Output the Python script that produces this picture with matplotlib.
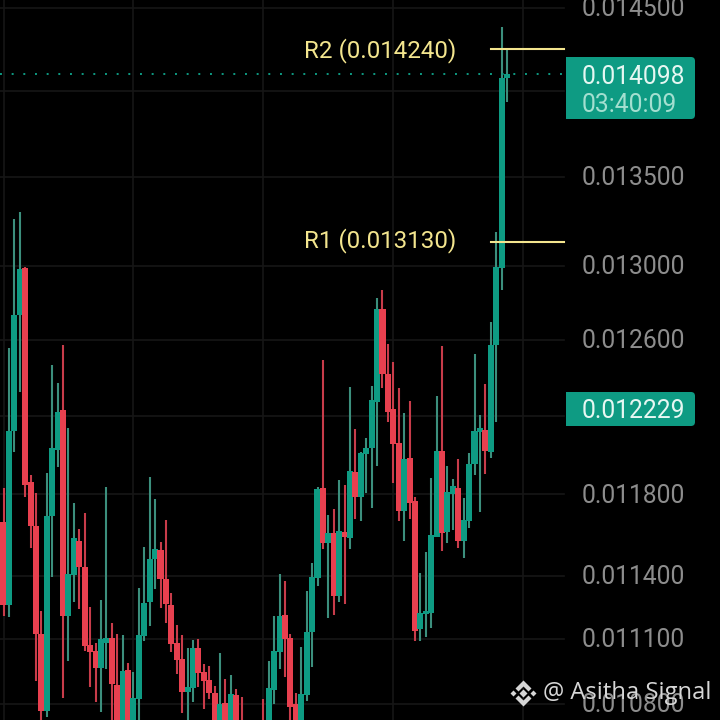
import numpy as np
import matplotlib
matplotlib.use('Agg')
import matplotlib.pyplot as plt
from matplotlib.patches import FancyBboxPatch, Rectangle, Polygon

# prices in millionths
highs = [11830, 12553, 13259, 13299, 12992, 11900, 11805, 11234, 11910, 12463,
         12373, 12569, 12139, 11755, 11631, 11710, 11253, 11082, 11282, 11835,
         11176, 11124, 11119, 10988, 10946, 11344, 11542, 11890, 11775, 11567,
         11675, 11320, 11167, 11119, 11059, 11096, 11101, 10983, 10974, 10882,
         11035, 10914, 10932, 10868, 10831, 10699, 10685, 10704, 10822, 10998,
         11210, 11411, 11373, 11124, 10849, 11063, 11329, 11460, 11835, 12489,
         11700, 11730, 11870, 11845, 12347, 12134, 12012, 12088, 12357, 12822,
         12866, 12574, 12479, 12342, 12212, 12274, 11785, 11416, 11517, 11885,
         12300, 12564, 11945, 11880, 11980, 11780, 12007, 12521, 12202, 12363,
         12692, 13187, 14384, 14250]
lows = [11210, 11205, 12012, 12321, 11785, 11537, 10905, 10699, 10740, 11397,
        11940, 10827, 10998, 11277, 11243, 11045, 10877, 10808, 10762, 10960,
        10699, 10646, 10631, 10608, 10608, 10699, 11091, 11162, 11339, 11248,
        11176, 11040, 10937, 10758, 10699, 10808, 10877, 10776, 10822, 10608,
        10608, 10608, 10608, 10608, 10586, 10541, 10532, 10550, 10550, 10608,
        10799, 10960, 10923, 10666, 10608, 10608, 10813, 10970, 11349, 11532,
        11200, 11215, 11277, 11267, 11532, 11680, 11670, 11805, 11735, 11945,
        12342, 12170, 11855, 11670, 11572, 11680, 11091, 11091, 11110, 11153,
        11587, 11522, 11562, 11626, 11537, 11489, 11636, 11900, 11715, 11905,
        11985, 12166, 12866, 13933]
opens = [11661, 11262, 12124, 12730, 12987, 11860, 11641, 11124, 10767, 11695,
         12022, 12228, 11210, 11406, 11572, 11445, 11073, 11045, 10965, 11082,
         11105, 10886, 10685, 10956, 10646, 10822, 11115, 11277, 11484, 11527,
         11387, 11262, 11082, 11007, 10854, 10872, 11059, 10946, 10909, 10849,
         10646, 10804, 10646, 10840, 10666, 10646, 10577, 10595, 10646, 10646,
         10863, 11040, 11215, 11105, 10799, 10646, 10840, 11134, 11392, 11830,
         11562, 11611, 11301, 11616, 11582, 11915, 11785, 12002, 12032, 12269,
         12763, 12420, 12233, 12062, 11720, 11985, 11765, 11148, 11219, 11224,
         11591, 12017, 11616, 11800, 11830, 11572, 11670, 11955, 12114, 12129,
         12012, 12569, 12987, 14075]
closes = [11262, 12124, 12730, 12981, 11845, 11641, 11124, 10767, 11695, 12032,
          12222, 11210, 11411, 11582, 11445, 11068, 11040, 10965, 11101, 11105,
          10891, 10666, 10951, 10646, 10827, 11119, 11272, 11484, 11532, 11387,
          11267, 11077, 11002, 10854, 10877, 11059, 10941, 10905, 10849, 10646,
          10799, 10646, 10845, 10646, 10608, 10586, 10631, 10640, 10608, 10872,
          11045, 11210, 11101, 10785, 10646, 10845, 11134, 11397, 11825, 11562,
          11611, 11301, 11621, 11587, 11920, 11785, 12007, 12032, 12280, 12763,
          12420, 12217, 12057, 11720, 11980, 11755, 11139, 11224, 11234, 11601,
          12017, 11611, 11810, 11840, 11572, 11675, 11955, 12119, 12139, 12017,
          12569, 12992, 14075, 14098]

tick_values = [14500, 13500, 13000, 12600, 11800, 11400, 11100, 10800]
tick_labels = ['0.014500', '0.013500', '0.013000', '0.012600',
               '0.011800', '0.011400', '0.011100', '0.010800']
grid_values = tick_values + [14000, 12200]
resist_values = [13130, 14250]
resist_labels = ['R1 (0.013130)', 'R2 (0.014240)']
last_price = 14098

GREEN, RED = '#0e9b83', '#e8404f'
WICK_GREEN, WICK_RED = '#3c8f7d', '#c83c4a'
YELLOW = '#f3e58e'
GRID = '#161616'
px = 1 / 5.414  # candles per pixel
x_of = lambda p: (p - 3.5) * px

plt.rcParams['font.family'] = ['Roboto', 'DejaVu Sans']
fig = plt.figure(figsize=(7.2, 7.2), dpi=100, facecolor='black')
ax = fig.add_axes([0, 0, 1, 1], facecolor='black')
ax.set_yscale('log')
ax.set_xlim(x_of(0), x_of(720))
ax.set_ylim(10725e-6, 14549e-6)
ax.axis('off')

# grid stops where the price scale starts
for g in grid_values:
    ax.plot([x_of(0), x_of(564)], [g * 1e-6, g * 1e-6], color=GRID, lw=1.2, zorder=1)
for i in range(0, 120, 24):
    ax.axvline(i, color=GRID, lw=1.2, zorder=1)

for i in range(len(opens)):
    up = closes[i] >= opens[i]
    ax.vlines(i, lows[i] * 1e-6, highs[i] * 1e-6, color=WICK_GREEN if up else WICK_RED,
              lw=1.5, zorder=2)
    lo, hi = min(opens[i], closes[i]), max(opens[i], closes[i])
    ax.bar(i, (hi - lo) * 1e-6, bottom=lo * 1e-6, width=1.12, color=GREEN if up else RED,
           lw=0, zorder=3)

ax.plot([x_of(0), x_of(564)], [last_price * 1e-6] * 2, color=GREEN, lw=1.4,
        ls=(0, (1, 5)), zorder=4)
for r, lab, shift in zip(resist_values, resist_labels, [1.2, -1]):
    ax.plot([x_of(491), x_of(564)], [r * 1e-6] * 2, color=YELLOW, lw=1.5, zorder=5)
    ax.annotate(lab, (x_of(304), r * 1e-6), xytext=(0, shift), textcoords='offset points',
                color=YELLOW, fontsize=17.4, va='center', ha='left', zorder=5)

for t, lab in zip(tick_values, tick_labels):
    ax.annotate(lab, (x_of(582), t * 1e-6), xytext=(0, -1), textcoords='offset points',
                color='#8d8d8d', fontsize=17.7, va='center', ha='left', zorder=5)

# overlay in pixels for the price tags and the watermark
ov = fig.add_axes([0, 0, 1, 1], facecolor='none')
ov.set_xlim(0, 720)
ov.set_ylim(720, 0)
ov.axis('off')

def price_tag(top, bottom):
    ov.add_patch(FancyBboxPatch((572, top + 4), 119, bottom - top - 8,
                                boxstyle='round,pad=4,rounding_size=4', fc=GREEN, ec='none', zorder=6))
    ov.add_patch(Rectangle((566, top), 20, bottom - top, fc=GREEN, ec='none', zorder=6))

price_tag(57, 119)
price_tag(392, 426)
ov.text(582, 77, '0.014098', color='#e6f7f2', fontsize=17.7, va='center', zorder=7)
ov.text(582, 104.5, '03:40:09', color='#a3dfd0', fontsize=17.7, va='center', zorder=7)
ov.text(582, 411.5, '0.012229', color='#e6f7f2', fontsize=17.7, va='center', zorder=7)

# exchange logo next to the watermark
cx, cy, wm = 523.5, 693.5, '#d6d6d6'
for dx, dy, r in [(0, 0, 4), (-10, 0, 3), (10, 0, 3)]:
    ov.add_patch(Polygon([(cx + dx - r, cy + dy), (cx + dx, cy + dy - r),
                          (cx + dx + r, cy + dy), (cx + dx, cy + dy + r)], fc=wm, ec='none', zorder=8))
for s in [1, -1]:
    ov.add_patch(Polygon([(cx, cy - s * 13), (cx + 8, cy - s * 5), (cx + 5, cy - s * 2), (cx, cy - s * 7),
                          (cx - 5, cy - s * 2), (cx - 8, cy - s * 5)], fc=wm, ec='none', zorder=8))
ov.text(543, 693, '@ Asitha Signal', color=wm, fontsize=17.1, va='center',
        family=['Open Sans', 'DejaVu Sans'], zorder=8)

plt.savefig('out.png', dpi=100, facecolor='black')
